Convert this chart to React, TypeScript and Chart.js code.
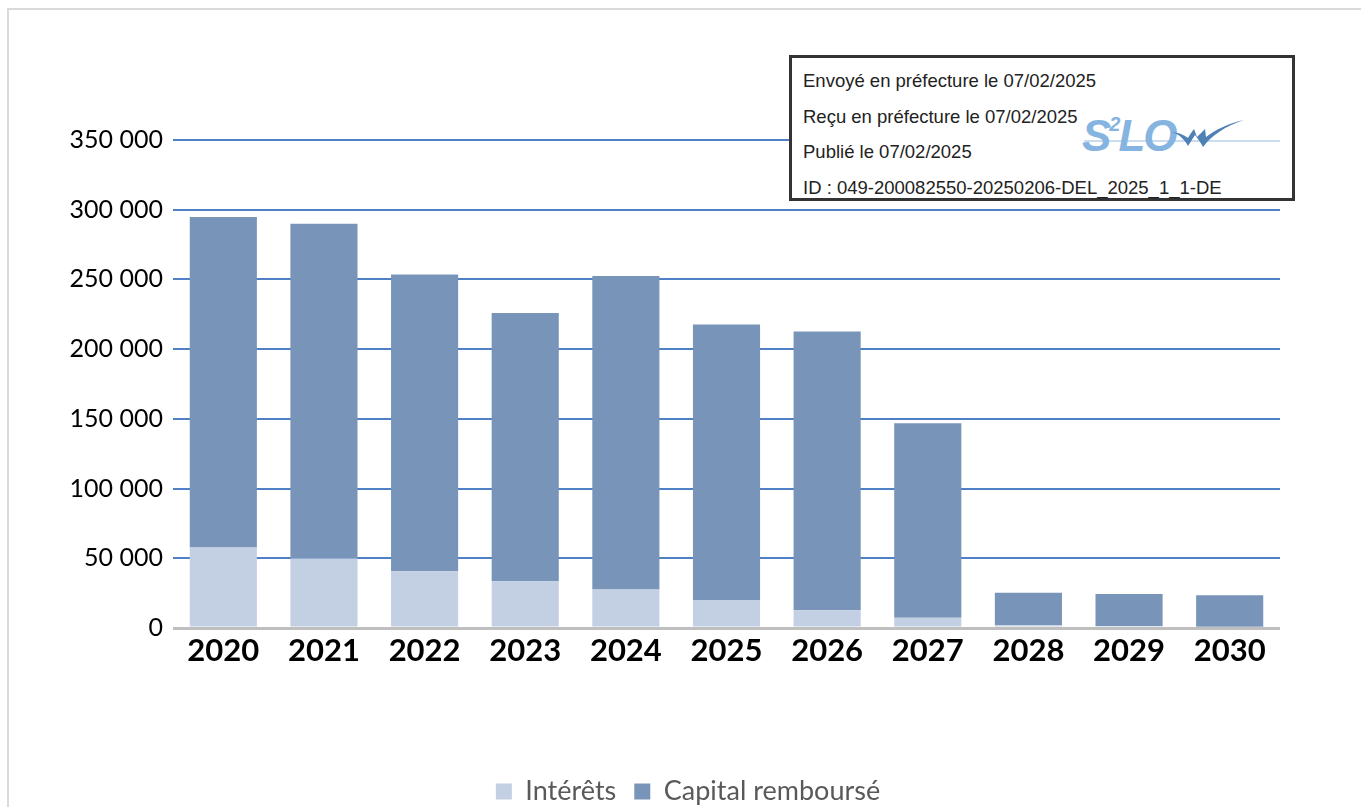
import React, { useEffect, useRef } from "react";
import { Chart, registerables } from "chart.js";

Chart.register(...registerables);

const years = ["2020", "2021", "2022", "2023", "2024", "2025", "2026", "2027", "2028", "2029", "2030"];
const interets = [57700, 49800, 40700, 33500, 27600, 20100, 12700, 7400, 2000, 1400, 800];
const totals = [294700, 290000, 253600, 225900, 252400, 217700, 212600, 146900, 25300, 24400, 23500];
const capital = totals.map((t, i) => t - interets[i]);
const yTicks = [0, 50000, 100000, 150000, 200000, 250000, 300000, 350000];

const stampLines = [
  "Envoyé en préfecture le 07/02/2025",
  "Reçu en préfecture le 07/02/2025",
  "Publié le 07/02/2025",
  "ID : 049-200082550-20250206-DEL_2025_1_1-DE",
];

function fmt(v: number): string {
  const s = String(Math.round(v));
  return s.replace(/\B(?=(\d{3})+(?!\d))/g, " ");
}

const legendShift = {
  id: "legendShift",
  afterLayout(chart: any) {
    const lg = chart.legend;
    if (lg) {
      lg.left += 48;
      lg.right += 48;
    }
  },
};

export default function App() {
  const ref = useRef<HTMLCanvasElement | null>(null);
  useEffect(() => {
    if (!ref.current) return;
    const chart = new Chart(ref.current, {
      type: "bar",
      data: {
        labels: years,
        datasets: [
          {
            label: "Intérêts",
            data: interets,
            backgroundColor: "#C3CFE3",
            barPercentage: 0.667,
            categoryPercentage: 1,
          },
          {
            label: "Capital remboursé",
            data: capital,
            backgroundColor: "#7895B9",
            barPercentage: 0.667,
            categoryPercentage: 1,
          },
        ],
      },
      plugins: [legendShift],
      options: {
        animation: false,
        responsive: true,
        maintainAspectRatio: false,
        layout: { padding: { left: 0, right: 81, top: 140, bottom: -8 } },
        plugins: {
          tooltip: { enabled: false },
          legend: {
            position: "bottom",
            labels: {
              font: { family: "Lato", size: 27 },
              color: "#595959",
              boxWidth: 16,
              boxHeight: 16,
              padding: 18,
            },
          },
        },
        scales: {
          x: {
            stacked: true,
            grid: { display: false },
            border: { display: false },
            ticks: {
              font: { family: "Lato", size: 31, weight: "bold" },
              color: "#000",
              padding: -4,
            },
            afterFit: (s: any) => {
              s.height = 132;
            },
          },
          y: {
            stacked: true,
            min: 0,
            max: 350000,
            z: 1,
            afterBuildTicks: (s: any) => {
              s.ticks = yTicks.map((v) => ({ value: v }));
            },
            afterFit: (s: any) => {
              s.width = 173;
            },
            grid: {
              drawTicks: false,
              color: (ctx: any) => (ctx.tick && ctx.tick.value === 0 ? "#BFBFBF" : "#4F7FC4"),
              lineWidth: (ctx: any) => (ctx.tick && ctx.tick.value === 0 ? 3 : 2),
            },
            border: { display: false },
            ticks: {
              font: { family: "Lato", size: 25 },
              color: "#000",
              padding: 10,
              callback: (v: any) => fmt(Number(v)),
            },
          },
        },
      },
    });
    return () => chart.destroy();
  }, []);

  return (
    <div style={{ position: "fixed", left: 0, top: 0, width: 1361, height: 807, overflow: "hidden", background: "#fff" }}>
      <div
        style={{
          position: "absolute",
          left: 7,
          top: 8,
          width: 1400,
          height: 900,
          border: "2px solid #DADADA",
          boxSizing: "border-box",
        }}
      />
      <div style={{ position: "absolute", left: 0, top: 0, width: 1361, height: 807 }}>
        <canvas ref={ref} />
      </div>
      <div
        style={{
          position: "absolute",
          left: 789,
          top: 55,
          width: 506,
          height: 146,
          border: "3px solid #333",
          boxSizing: "border-box",
          background: "#fff",
          fontFamily: "'Liberation Sans', Arial, sans-serif",
          fontSize: 18.5,
          color: "#222",
        }}
      >
        <div style={{ position: "absolute", left: 292, top: 82, width: 196, height: 2, background: "#CADCF0" }} />
        <div
          style={{
            position: "absolute",
            left: 290,
            top: 56,
            fontFamily: "'Liberation Sans', Arial, sans-serif",
            fontWeight: "bold",
            fontStyle: "italic",
            fontSize: 44,
            lineHeight: "44px",
            color: "#86B4E0",
            letterSpacing: -2,
          }}
        >
          S<span style={{ fontSize: 20, verticalAlign: "top", lineHeight: "20px" }}>2</span>LO
        </div>
        <svg style={{ position: "absolute", left: 378, top: 62 }} width="74" height="30" viewBox="0 0 74 30">
          <path
            d="M0 12 C7 13 13 17 18 26 L25 15 C28 19 31 23 33 27 C41 16 55 6 74 0 C57 4 45 10 36 17 L35 9 C32 12 29 15 27 17 L24 9 C21 13 19 16 18 18 C13 14 7 12 0 12 Z"
            fill="#4F80B6"
          />
        </svg>
        {stampLines.map((t, i) => (
          <div key={i} style={{ position: "absolute", left: 11, top: 12 + i * 35.5, whiteSpace: "nowrap", lineHeight: "22px" }}>
            {t}
          </div>
        ))}
      </div>
    </div>
  );
}
